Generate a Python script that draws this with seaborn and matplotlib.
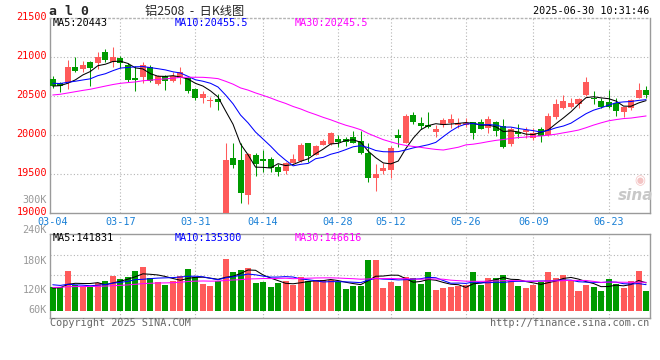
import matplotlib
matplotlib.use('Agg')
import numpy as np
import pandas as pd
import seaborn as sns
import matplotlib.pyplot as plt
import matplotlib.transforms as mtransforms

# =========================================
# DATA  (al2508 daily, 2025-03-04 .. 2025-06-30)
# =========================================

tick_idx = [0, 9, 19, 28, 38, 45, 55, 64, 74]
tick_labels = ["03-04", "03-17", "03-31", "04-14", "04-28",
               "05-12", "05-26", "06-09", "06-23"]

open_px = [20722, 20671, 20688, 20876, 20850, 20936, 20932, 21064, 20936, 20987,
           20902, 20731, 20744, 20880, 20658, 20761, 20701, 20731, 20731, 20594,
           20483, 20440, 20466, 18950, 19706, 19685, 19236, 19749, 19698, 19698,
           19599, 19544, 19642, 19672, 19902, 19744, 19877, 19889, 19954, 19954,
           19984, 19928, 19779, 19458, 19544, 19557, 20005, 19898, 20261, 20163,
           20133, 20048, 20133, 20154, 20133, 20133, 20167, 20167, 20099, 20167,
           20120, 19885, 20039, 20039, 19962, 20082, 20005, 20236, 20355, 20368,
           20402, 20517, 20475, 20440, 20423, 20410, 20293, 20355, 20483, 20581]

close_px = [20637, 20628, 20876, 20825, 20902, 20859, 21000, 20970, 21000, 20923,
            20714, 20714, 20902, 20697, 20761, 20701, 20761, 20816, 20569, 20483,
            20526, 20453, 20424, 19685, 19621, 19258, 19762, 19633, 19672, 19578,
            19535, 19642, 19698, 19877, 19740, 19864, 19932, 20030, 19920, 19920,
            19907, 19779, 19458, 19501, 19586, 19843, 19962, 20253, 20176, 20120,
            20112, 20082, 20197, 20210, 20163, 20163, 20035, 20082, 20210, 20056,
            19855, 20082, 20013, 20069, 20026, 19996, 20253, 20402, 20441, 20419,
            20466, 20684, 20462, 20368, 20368, 20312, 20360, 20453, 20581, 20517]

high_px = [20761, 20688, 20962, 21000, 20953, 20953, 21064, 21107, 21132, 21017,
           20923, 20889, 20944, 20902, 20774, 20774, 20808, 20872, 20752, 20611,
           20569, 20496, 20526, 19898, 19898, 19898, 19770, 19770, 19813, 19727,
           19634, 19663, 19757, 19898, 19902, 19877, 19954, 20048, 20005, 19984,
           20056, 20056, 19898, 19634, 19642, 19864, 20082, 20270, 20295, 20231,
           20295, 20133, 20218, 20274, 20218, 20218, 20176, 20206, 20248, 20184,
           20210, 20112, 20142, 20112, 20090, 20103, 20291, 20462, 20518, 20475,
           20475, 20752, 20569, 20483, 20581, 20483, 20368, 20466, 20667, 20633]

low_px = [20603, 20560, 20594, 20808, 20808, 20633, 20850, 20944, 20880, 20859,
          20688, 20569, 20667, 20680, 20646, 20581, 20688, 20658, 20539, 20453,
          20411, 20368, 20325, 18900, 19578, 19130, 19117, 19480, 19535, 19527,
          19484, 19501, 19642, 19663, 19663, 19744, 19877, 19877, 19855, 19864,
          19898, 19757, 19407, 19292, 19501, 19458, 19855, 19898, 20146, 20082,
          20099, 19984, 20112, 20099, 20099, 20103, 19954, 20082, 20026, 19994,
          19843, 19868, 19970, 19962, 19941, 19920, 19992, 20210, 20338, 20346,
          20346, 20509, 20398, 20355, 20346, 20253, 20240, 20325, 20475, 20483]

volume_k = [130, 130, 180, 138, 130, 130, 143, 148, 165, 156,
            161, 180, 191, 158, 146, 138, 150, 165, 186, 161,
            141, 135, 148, 216, 177, 182, 188, 143, 146, 131,
            143, 148, 136, 161, 150, 153, 151, 153, 145, 125,
            133, 135, 212, 212, 128, 146, 134, 161, 158, 140,
            176, 122, 128, 131, 133, 136, 176, 138, 158, 158,
            167, 150, 134, 128, 138, 145, 176, 158, 167, 153,
            120, 138, 130, 120, 155, 140, 128, 150, 180, 120]

# sessions before 03-04, only needed so the MA lines start correctly
prev_close = [20350, 20380, 20330, 20400, 20420, 20390, 20360, 20410, 20450, 20430,
              20470, 20440, 20480, 20460, 20500, 20490, 20520, 20510, 20490, 20550,
              20660, 20720, 20690, 20740, 20710, 20595, 20725, 20610, 20585]

prev_volume_k = [118, 125, 132, 120, 128, 135, 122, 130, 126, 119,
                 124, 131, 127, 121, 129, 134, 123, 120, 128, 126,
                 150, 145, 155, 140, 148, 125, 130, 122, 133]

price_ticks = [19000, 19500, 20000, 20500, 21000, 21500]
vol_labels = ["240K", "180K", "120K", "60K"]

# =========================================
# PREP
# =========================================

n = len(close_px)
df = pd.DataFrame({
    "idx": np.arange(n),
    "open": open_px,
    "close": close_px,
    "high": high_px,
    "low": low_px,
    "volume": np.array(volume_k) * 1000,
})

RED = "#ff5a5a"
GREEN = "#009a00"
df["color"] = np.where(df["close"] >= df["open"], RED, GREEN)

all_close = pd.Series(prev_close + close_px, dtype=float)
all_vol = pd.Series(prev_volume_k + volume_k, dtype=float) * 1000
k = len(prev_close)
for w in (5, 10, 30):
    df[f"ma{w}"] = all_close.rolling(w).mean().iloc[k:].values
    df[f"vma{w}"] = all_vol.rolling(w).mean().iloc[k:].values

VOL_BASE = 60000

# =========================================
# FIGURE
# =========================================

sns.set_style("white")
plt.rcParams['font.family'] = ['DejaVu Sans Mono', 'Noto Sans CJK SC']

W, H = 660, 360
fig = plt.figure(figsize=(W / 100, H / 100), dpi=100)


def fx(x):
    return x / W


def fy(y):
    return 1 - y / H


ax_k = fig.add_axes([fx(50), fy(213.3), 600 / W, 195 / H])
ax_v = fig.add_axes([fx(50), fy(318.3), 600 / W, 84 / H])

GRID = dict(color="#b4b4b4", linestyle=(0, (1, 2)), linewidth=0.8)
FRAME = "#9a9a9a"
LW1 = 0.75

# ---------- candles ----------
ax_k.vlines(df["idx"], df["low"], df["high"], colors=df["color"], linewidth=LW1, zorder=3)
body = (df["close"] - df["open"]).abs().clip(lower=10)
ax_k.bar(df["idx"], body, bottom=df[["open", "close"]].min(axis=1),
         width=0.8, color=df["color"], linewidth=0, zorder=4)

sns.lineplot(x=df["idx"], y=df["ma5"], color="black", linewidth=LW1, ax=ax_k, zorder=5)
sns.lineplot(x=df["idx"], y=df["ma10"], color="#0000ff", linewidth=LW1, ax=ax_k, zorder=5)
sns.lineplot(x=df["idx"], y=df["ma30"], color="#ff00ff", linewidth=LW1, ax=ax_k, zorder=5)

ax_k.set_xlim(-0.37, 79.52)
ax_k.set_ylim(19000, 21500)
ax_k.set_yticks(price_ticks)
ax_k.set_yticklabels([str(p) for p in price_ticks])
ax_k.set_xticks(tick_idx)
ax_k.set_xticklabels(tick_labels)
ax_k.set_xlabel("")
ax_k.set_ylabel("")
ax_k.tick_params(axis="y", length=0, pad=2.2, labelcolor="#ff0000", labelsize=7.3)
ax_k.tick_params(axis="x", length=0, pad=2.5, labelcolor="#1a80d6", labelsize=7.3)
shift = mtransforms.ScaledTranslation(0, 2.5 / 100, fig.dpi_scale_trans)
for lab in ax_k.get_yticklabels():
    lab.set_transform(lab.get_transform() + shift)

for p in price_ticks[1:-1]:
    ax_k.axhline(p, zorder=1, **GRID)
for t in tick_idx[1:]:
    ax_k.axvline(t, zorder=1, **GRID)

for s in ax_k.spines.values():
    s.set_color(FRAME)
    s.set_linewidth(1.0)
ax_k.spines["top"].set_linestyle((0, (1, 2)))
ax_k.spines["top"].set_color("#b4b4b4")

# ---------- volume ----------
ax_v.bar(df["idx"], df["volume"] - VOL_BASE, bottom=VOL_BASE,
         width=0.8, color=df["color"], linewidth=0, zorder=3)
sns.lineplot(x=df["idx"], y=df["vma5"], color="black", linewidth=LW1, ax=ax_v, zorder=5)
sns.lineplot(x=df["idx"], y=df["vma10"], color="#0000ff", linewidth=LW1, ax=ax_v, zorder=5)
sns.lineplot(x=df["idx"], y=df["vma30"], color="#ff00ff", linewidth=LW1, ax=ax_v, zorder=5)

ax_v.set_xlim(-0.37, 79.52)
ax_v.set_ylim(VOL_BASE - 7.6 * 3000, VOL_BASE + 76.4 * 3000)
ax_v.set_xticks([])
ax_v.set_yticks([])
ax_v.set_xlabel("")
ax_v.set_ylabel("")
for f in (0.27, 0.51, 0.75):
    ax_v.plot([0, 1], [f, f], transform=ax_v.transAxes, zorder=1, **GRID)
for t in tick_idx[1:]:
    ax_v.axvline(t, zorder=1, **GRID)
for s in ax_v.spines.values():
    s.set_color(FRAME)
    s.set_linewidth(1.0)

# =========================================
# TEXTS
# =========================================

MONO = dict(family="DejaVu Sans Mono", fontsize=7.3, va="center")

fig.text(fx(49), fy(11.5), "a l 0", fontweight="bold", family="DejaVu Sans Mono",
         fontsize=9.5, va="center")
fig.text(fx(195), fy(11), "铝2508  -  日K线图", family=["Noto Sans CJK SC", "DejaVu Sans"],
         fontsize=8.8, ha="center", va="center")
fig.text(fx(649), fy(11.5), "2025-06-30 10:31:46", ha="right", color="black", **MONO)

fig.text(fx(53), fy(23.5), "MA5:20443", color="black", **MONO)
fig.text(fx(175), fy(23.5), "MA10:20455.5", color="#0000ff", **MONO)
fig.text(fx(295), fy(23.5), "MA30:20245.5", color="#ff00ff", **MONO)

fig.text(fx(47), fy(200), "300K", ha="right", color="#999999", **MONO)
for lab, yy in zip(vol_labels, [230, 261, 290, 310]):
    fig.text(fx(47), fy(yy), lab, ha="right", color="#999999", **MONO)

fig.text(fx(53), fy(238), "MA5:141831", color="black", **MONO)
fig.text(fx(175), fy(238), "MA10:135300", color="#0000ff", **MONO)
fig.text(fx(295), fy(238), "MA30:146616", color="#ff00ff", **MONO)

fig.text(fx(50), fy(323.5), "Copyright 2025 SINA.COM", ha="left", color="#666666", **MONO)
fig.text(fx(649), fy(323.5), "http://finance.sina.com.cn", ha="right", color="#666666", **MONO)

# sina watermark
fig.text(fx(640), fy(181), "◉", color="#f4c4c4", fontsize=9,
         family="DejaVu Sans", ha="center", va="center")
fig.text(fx(636), fy(195), "sina", color="#c8c8c8", fontsize=11, fontweight="bold",
         style="italic", family="DejaVu Sans", ha="center", va="center")

fig.savefig("out.png", dpi=100)
plt.close(fig)
